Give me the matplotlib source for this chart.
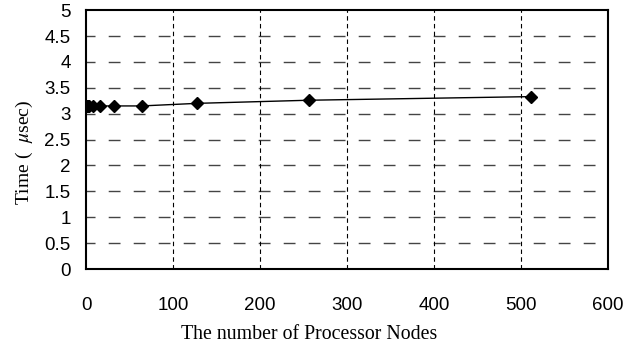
import matplotlib
matplotlib.use("Agg")
import matplotlib.pyplot as plt

nodes = [1, 2, 4, 8, 16, 32, 64, 128, 256, 512]
times = [3.15, 3.15, 3.15, 3.15, 3.15, 3.15, 3.15, 3.20, 3.26, 3.33]
xticks = [0, 100, 200, 300, 400, 500, 600]
yticks = [0, 0.5, 1, 1.5, 2, 2.5, 3, 3.5, 4, 4.5, 5]

plt.rcParams['mathtext.fontset'] = 'stix'
fig = plt.figure(figsize=(6.25, 3.49), dpi=100)
ax = fig.add_axes([0.1376, 0.229, 0.835, 0.742])

for yv in yticks[1:-1]:
    ax.axhline(yv, color='#444444', lw=1.0, linestyle=(2, (8.5, 9.5)), zorder=1)
for xv in xticks[1:-1]:
    ax.axvline(xv, color='black', lw=0.8, linestyle=(0, (4, 3)), zorder=1)

ax.plot(nodes, times, color='black', lw=1.0, marker='D', markersize=6, zorder=3)

ax.set_xlim(0, 600)
ax.set_ylim(0, 5)
ax.set_xticks(xticks)
ax.set_yticks(yticks)
ax.set_xticklabels([str(v) for v in xticks], family='Liberation Sans', fontsize=13.5)
ax.set_yticklabels([f"{v:g}" for v in yticks], family='Liberation Sans', fontsize=13.5)
ax.tick_params(axis='x', length=0, pad=20)
ax.tick_params(axis='y', length=0, pad=11)
for s in ax.spines.values():
    s.set_linewidth(1.5)
    s.set_color('black')

ax.set_xlabel('The number of Processor Nodes', family='Liberation Serif', fontsize=14.3, labelpad=8)
ax.set_ylabel('Time (  $\\mu$sec)', family='Liberation Serif', fontsize=14, labelpad=7)
ax.xaxis.label.set_x(0.427)
ax.yaxis.label.set_y(0.452)

fig.savefig('out.png', dpi=100)
